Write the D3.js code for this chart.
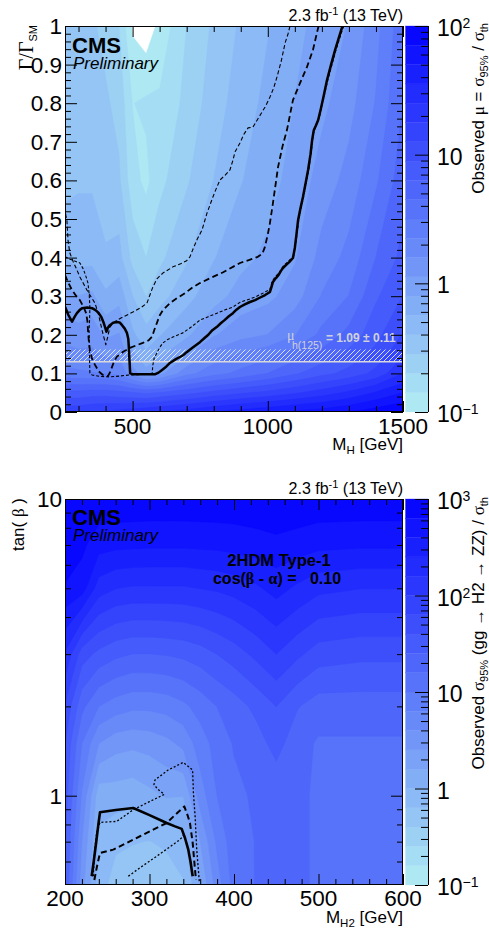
<!DOCTYPE html>
<html>
<head>
<meta charset="utf-8">
<script src="https://cdn.jsdelivr.net/npm/d3@7"></script>
<style>
html, body { margin: 0; padding: 0; background: #fff; }
svg { display: block; font-family: "Liberation Sans", Arial, Helvetica, sans-serif; }
</style>
</head>
<body>
<svg id="chart" width="489" height="933"></svg>
<script>
// ---------------- width scan: observed mu = sigma95 / sigma_th ----------------
const widthMass = [250, 300, 350, 400, 450, 500, 550, 600, 700, 800, 900, 1000, 1100, 1200, 1300, 1400, 1500];
const widthRatio = [0, 0.05, 0.1, 0.15, 0.2, 0.3, 0.4, 0.6, 0.8, 1.0];
// one row per widthRatio entry, one column per widthMass entry
const widthMu = [
  [16, 17, 18, 19, 20, 22, 24, 26, 30, 36, 42, 48, 55, 60, 70, 85, 100],
  [7, 7, 7.5, 7.5, 7, 6.5, 6, 6.5, 8, 10, 12, 14, 17, 21, 27, 37, 50],
  [2.5, 2.4, 2.3, 2.2, 2, 1.3, 0.9, 1.0, 2, 2.8, 3.5, 4.5, 6, 8, 10, 14, 25],
  [1.8, 1.7, 1.7, 1.5, 1.5, 0.85, 0.6, 0.75, 1.05, 1.8, 2.3, 2.8, 3.8, 5, 7, 10, 17],
  [1.4, 1.3, 1.4, 1.05, 1.15, 0.6, 0.45, 0.55, 0.75, 1.08, 1.4, 1.6, 2.2, 3.5, 5, 8, 13],
  [0.88, 0.8, 0.85, 0.6, 0.7, 0.4, 0.28, 0.35, 0.5, 0.7, 0.9, 1.02, 1.35, 2.3, 3.2, 6, 9],
  [0.55, 0.5, 0.5, 0.42, 0.45, 0.25, 0.2, 0.26, 0.38, 0.55, 0.72, 0.85, 1.08, 1.8, 2.5, 4.5, 7],
  [0.35, 0.38, 0.38, 0.32, 0.3, 0.16, 0.13, 0.18, 0.27, 0.4, 0.55, 0.7, 0.9, 1.3, 1.8, 3, 5.5],
  [0.32, 0.35, 0.36, 0.3, 0.25, 0.14, 0.15, 0.15, 0.22, 0.34, 0.47, 0.62, 0.8, 1.03, 1.4, 2.3, 4.5],
  [0.3, 0.32, 0.3, 0.25, 0.2, 0.095, 0.08, 0.11, 0.2, 0.3, 0.42, 0.55, 0.72, 0.9, 1.15, 2, 4]
];
// mu = 1 contours: [M_H, Gamma/Gamma_SM]
const widthObserved = [[250,0.273],[262,0.252],[276,0.234],[286,0.247],[294,0.256],[304,0.264],[313,0.269],[332,0.271],[350,0.269],[363,0.264],[375,0.256],[385,0.245],[393,0.231],[399,0.218],[403,0.208],[409,0.219],[416,0.225],[428,0.231],[442,0.233],[452,0.232],[461,0.225],[471,0.216],[479,0.205],[484,0.19],[486,0.169],[488,0.14],[491,0.10],[500,0.098],[540,0.098],[584,0.098],[596,0.102],[609,0.109],[625,0.118],[638,0.127],[660,0.137],[687,0.147],[700,0.155],[720,0.166],[749,0.181],[765,0.191],[780,0.2],[795,0.212],[811,0.22],[826,0.23],[840,0.238],[856,0.248],[871,0.256],[884,0.265],[897,0.272],[915,0.279],[934,0.285],[953,0.29],[970,0.296],[990,0.303],[1008,0.311],[1013,0.322],[1019,0.337],[1030,0.347],[1040,0.355],[1048,0.365],[1056,0.373],[1068,0.381],[1080,0.389],[1093,0.399],[1100,0.425],[1106,0.46],[1112,0.497],[1120,0.525],[1130,0.557],[1140,0.593],[1149,0.627],[1158,0.668],[1164,0.705],[1170,0.73],[1178,0.742],[1186,0.756],[1196,0.785],[1207,0.82],[1219,0.86],[1234,0.9],[1249,0.938],[1262,0.968],[1274,0.995],[1278,1.0]];
const widthExpected = [[250,0.355],[262,0.335],[276,0.316],[292,0.3],[305,0.29],[320,0.27],[328,0.256],[333,0.235],[335,0.212],[338,0.185],[342,0.161],[350,0.138],[361,0.122],[375,0.105],[390,0.096],[409,0.093],[418,0.105],[424,0.117],[432,0.132],[442,0.143],[465,0.156],[490,0.166],[515,0.173],[538,0.179],[560,0.186],[572,0.195],[580,0.212],[590,0.231],[600,0.25],[612,0.264],[640,0.283],[664,0.295],[694,0.308],[720,0.322],[749,0.334],[797,0.35],[835,0.362],[871,0.376],[897,0.386],[932,0.394],[963,0.402],[980,0.41],[989,0.427],[1000,0.46],[1008,0.49],[1019,0.541],[1038,0.635],[1055,0.69],[1071,0.731],[1093,0.808],[1119,0.852],[1145,0.894],[1167,0.938],[1186,0.995],[1189,1.0]];
const widthSigmaLow = [[250,0.53],[253,0.51],[257,0.497],[261,0.446],[265,0.425],[268,0.412],[280,0.39],[294,0.368],[305,0.35],[318,0.333],[331,0.316],[345,0.3],[361,0.282],[375,0.25],[387,0.212],[395,0.19],[401,0.174],[408,0.195],[416,0.22],[428,0.23],[442,0.238],[470,0.248],[501,0.259],[530,0.27],[553,0.282],[565,0.305],[575,0.324],[590,0.345],[612,0.36],[649,0.376],[680,0.385],[700,0.392],[712,0.402],[725,0.425],[738,0.446],[757,0.472],[775,0.515],[797,0.557],[810,0.58],[823,0.601],[840,0.612],[860,0.627],[870,0.65],[879,0.674],[897,0.697],[912,0.72],[927,0.736],[945,0.738],[968,0.765],[990,0.79],[1008,0.816],[1022,0.84],[1034,0.868],[1050,0.91],[1064,0.956],[1075,0.98],[1082,1.0]];
const widthSigmaHigh = [[250,0.402],[268,0.396],[290,0.39],[305,0.386],[318,0.37],[328,0.35],[335,0.334],[340,0.3],[342,0.27],[341,0.24],[339,0.212],[340,0.16],[342,0.101],[350,0.096],[380,0.092],[416,0.091],[450,0.093],[490,0.096],[530,0.097],[572,0.098],[575,0.122],[580,0.14],[590,0.153],[600,0.167],[612,0.179],[630,0.188],[649,0.194],[686,0.205],[720,0.222],[749,0.238],[780,0.247],[812,0.256],[840,0.264],[871,0.272],[897,0.284],[934,0.293],[953,0.298],[980,0.307],[1008,0.318],[1016,0.338],[1024,0.347],[1042,0.361],[1058,0.379],[1077,0.391],[1096,0.405],[1106,0.45],[1115,0.5],[1133,0.56],[1152,0.63],[1161,0.675],[1168,0.72],[1176,0.738],[1190,0.762],[1204,0.805],[1223,0.863],[1253,0.94],[1278,0.995],[1282,1.0]];
// measured h(125) signal strength band drawn on the width axis
const higgsLine = 0.130;
const higgsBandTop = 0.162;
const higgsLabel = "= 1.09 \u00b1 0.11";
const widthXTicks = [500, 1000, 1500];
const widthYTicks = [0, 0.1, 0.2, 0.3, 0.4, 0.5, 0.6, 0.7, 0.8, 0.9, 1];
const widthZTicks = [0.1, 1, 10, 100];

// ---------------- 2HDM type-1 scan: observed sigma95 / sigma_th ----------------
const thdmMass = [200, 220, 240, 260, 280, 300, 320, 340, 360, 380, 400, 425, 450, 475, 500, 550, 600];
const thdmTanBeta = [0.5, 0.7, 1, 1.5, 2, 3, 5, 7, 10];
const thdmSigma = [
  [25, 3, 0.8, 0.5, 0.45, 0.42, 0.45, 0.6, 1.6, 5, 12, 16, 17, 17, 15, 12, 12],
  [28, 4, 0.9, 0.7, 0.65, 0.62, 0.7, 0.85, 2.5, 7, 13, 16, 17, 17, 15, 12, 12],
  [32, 6, 1.2, 1.25, 1.17, 1.4, 1.65, 1.6, 5, 10, 14, 17, 18, 17, 15, 12, 12],
  [40, 10, 4, 3, 2.8, 3, 3.5, 4.5, 8, 12, 16.5, 20, 30, 19, 15, 15, 15],
  [60, 18, 10, 8, 7, 7, 7.5, 9, 12, 16, 20, 28, 40, 26, 20, 20, 20],
  [150, 50, 35, 28, 25, 25, 26, 28, 32, 40, 50, 70, 100, 70, 50, 45, 45],
  [600, 500, 200, 160, 150, 150, 150, 150, 160, 170, 190, 230, 300, 230, 180, 160, 160],
  [900, 700, 480, 450, 440, 430, 430, 430, 440, 450, 470, 500, 550, 500, 450, 430, 430],
  [1000, 1000, 900, 900, 900, 900, 900, 900, 900, 900, 900, 950, 1000, 950, 900, 900, 900]
];
const thdmObserved = [[231.6,0.535],[234,0.6],[237,0.7],[239.5,0.8],[241.4,0.879],[260,0.895],[280.8,0.909],[300,0.86],[320.3,0.809],[330.2,0.788],[338.1,0.773],[342,0.72],[345.9,0.658],[348.5,0.6],[351.1,0.535]];
const thdmExpected = [[234.7,0.52],[238,0.58],[241.4,0.641],[257.1,0.658],[273,0.693],[288.8,0.73],[305,0.77],[320.3,0.809],[331,0.865],[341.2,0.92],[345,0.86],[347.9,0.809],[351.1,0.693],[353,0.6],[355,0.52]];
const thdmSigmaOuter = [[233.5,0.535],[235,0.65],[237.5,0.749],[241.4,0.813],[261.2,0.819],[280.8,0.897],[300,0.955],[317.5,1.01],[310,1.05],[305.3,1.09],[306.5,1.13],[322,1.22],[340,1.295],[351,1.22],[352,1.02],[354,0.85],[355.9,0.658],[358.9,0.514]];
const thdmSigmaInner = [[274.9,0.535],[290,0.575],[308.5,0.625],[325,0.675],[336,0.711],[342,0.745]];
const thdmXTicks = [200, 300, 400, 500, 600];
const thdmYTicks = [1, 10];
const thdmZTicks = [0.1, 1, 10, 100, 1000];

// ---------------- drawing ----------------
const svg = d3.select("#chart");
const defs = svg.append("defs");
const SERIF = '"Liberation Serif", "Times New Roman", serif';
const N_BANDS = 20;
const lowColor = "#aee9f3", highColor = "#0808ff";
const bandColor = k => d3.interpolateRgb(lowColor, highColor)(k / (N_BANDS - 1));

// where d3.contours places a grid sample inside its cell
const sampleOffset = (() => {
  const c = d3.contours().size([2, 1]).thresholds([0.5])([0, 1])[0];
  const xs = [];
  c.coordinates.forEach(poly => poly.forEach(ring => ring.forEach(p => xs.push(p[0]))));
  return d3.min(xs) - 0.5;
})();

function rich(parent, x, y, parts, o = {}) {
  const t = parent.append("text")
    .attr("x", x).attr("y", y)
    .attr("font-size", o.size || 16)
    .attr("text-anchor", o.anchor || "start")
    .attr("fill", o.fill || "#000");
  if (o.rotate) t.attr("transform", `rotate(${o.rotate},${x},${y})`);
  if (o.weight) t.attr("font-weight", o.weight);
  if (o.style) t.attr("font-style", o.style);
  let shift = 0;
  parts.forEach(p => {
    const s = t.append("tspan").text(p.t);
    const target = p.shift || 0;
    if (target !== shift) { s.attr("dy", target - shift); shift = target; }
    if (p.size) s.attr("font-size", p.size);
    if (p.font) s.attr("font-family", p.font);
  });
  return t;
}

function powLabel(parent, x, y, v, size) {
  const e = Math.round(Math.log10(v));
  if (e === 0) return rich(parent, x, y, [{ t: "1" }], { size });
  if (e === 1) return rich(parent, x, y, [{ t: "10" }], { size });
  return rich(parent, x, y, [{ t: "10" }, { t: e < 0 ? "\u2212" + (-e) : String(e), size: 14, shift: -8 }], { size });
}

function drawPanel(p) {
  const box = p.box;
  const x = p.x, y = p.y, z = p.z;
  const clipId = p.id + "-clip";
  defs.append("clipPath").attr("id", clipId).append("rect")
    .attr("x", box.left).attr("y", box.top)
    .attr("width", box.right - box.left).attr("height", box.bottom - box.top);
  const root = svg.append("g");
  const plot = root.append("g").attr("clip-path", `url(#${clipId})`);

  // filled colour bands from the grid
  const nx = p.gridX.length, ny = p.gridY.length;
  const logValues = [];
  p.grid.forEach(row => row.forEach(v => logValues.push(Math.log10(v))));
  const step = (p.zLog[1] - p.zLog[0]) / N_BANDS;
  const thresholds = d3.range(N_BANDS).map(k => p.zLog[0] + k * step);
  const bands = d3.contours().size([nx, ny]).thresholds(thresholds)(logValues);
  const ix = d3.scaleLinear().domain(d3.range(nx)).range(p.gridX.map(v => x(v))).clamp(true);
  const iy = d3.scaleLinear().domain(d3.range(ny)).range(p.gridY.map(v => y(v))).clamp(true);
  const toScreen = d3.geoTransform({
    point(gx, gy) { this.stream.point(ix(gx - sampleOffset), iy(gy - sampleOffset)); }
  });
  const bandPath = d3.geoPath(toScreen);
  plot.append("g").selectAll("path").data(bands).join("path")
    .attr("d", bandPath)
    .attr("fill", (d, k) => bandColor(k))
    .attr("fill-rule", "evenodd")
    .attr("stroke", (d, k) => bandColor(k))
    .attr("stroke-width", 0.4);

  if (p.extra) p.extra(plot);

  // limit contours
  const line = d3.line().x(d => x(d[0])).y(d => y(d[1]));
  p.lines.forEach(l => {
    plot.append("path").attr("d", line(l.data))
      .attr("fill", "none").attr("stroke", "#000")
      .attr("stroke-width", l.w)
      .attr("stroke-dasharray", l.dash || null)
      .attr("stroke-linejoin", "round");
  });

  if (p.extraTop) p.extraTop(plot);

  // frame and ticks
  root.append("rect")
    .attr("x", box.left + 0.5).attr("y", box.top + 0.5)
    .attr("width", box.right - box.left - 1).attr("height", box.bottom - box.top - 1)
    .attr("fill", "none").attr("stroke", "#000").attr("stroke-width", 1);

  const tickAxis = (axisFn, scale, values, size, tx, ty) => {
    root.append("g").attr("transform", `translate(${tx},${ty})`)
      .call(axisFn(scale).tickValues(values).tickSize(size).tickFormat(""))
      .call(a => a.select(".domain").remove());
  };
  tickAxis(d3.axisBottom, x, p.xMajor, -11, 0, box.bottom);
  tickAxis(d3.axisBottom, x, p.xMinor, -6, 0, box.bottom);
  tickAxis(d3.axisTop, x, p.xMajor, -11, 0, box.top);
  tickAxis(d3.axisTop, x, p.xMinor, -6, 0, box.top);
  tickAxis(d3.axisLeft, y, p.yMajor, -12, box.left, 0);
  tickAxis(d3.axisLeft, y, p.yMinor, -6, box.left, 0);
  tickAxis(d3.axisRight, y, p.yMajor, -12, box.right, 0);
  tickAxis(d3.axisRight, y, p.yMinor, -6, box.right, 0);

  // tick labels
  p.xMajor.forEach(v => rich(root, x(v), p.xLabelY, [{ t: String(v) }], { size: 22.5, anchor: "middle" }));
  p.yMajor.forEach(v => rich(root, 62, y(v) + 8, [{ t: p.yFormat(v) }], { size: 22.5, anchor: "end" }));

  // colour scale
  const cb = root.append("g");
  thresholds.forEach((t, k) => {
    const y0 = z(Math.pow(10, t)), y1 = z(Math.pow(10, t + step));
    cb.append("rect").attr("x", 405.5).attr("y", y1).attr("width", 428 - 405.5).attr("height", y0 - y1)
      .attr("fill", bandColor(k)).attr("stroke", bandColor(k)).attr("stroke-width", 0.3);
  });
  cb.append("line").attr("x1", 428.5).attr("x2", 428.5).attr("y1", box.top).attr("y2", box.bottom)
    .attr("stroke", "#000").attr("stroke-width", 1);
  const zMinor = [];
  p.zMajor.slice(0, -1).forEach(d => { for (let m = 2; m <= 9; m++) zMinor.push(d * m); });
  tickAxis(d3.axisRight, z, p.zMajor, -13, 428, 0);
  tickAxis(d3.axisRight, z, zMinor, -7, 428, 0);
  p.zMajor.forEach(v => powLabel(root, 437, z(v) + 10, v, 23));

  return root;
}

// ---------- width panel ----------
const topBox = { left: 65, right: 403, top: 26, bottom: 412 };
const xW = d3.scaleLinear().domain([250, 1500]).range([topBox.left, topBox.right]);
const yW = d3.scaleLinear().domain([0, 1]).range([topBox.bottom, topBox.top]);
const zW = d3.scaleLog().domain([0.1, 100]).range([topBox.bottom, topBox.top]);

const hatch = defs.append("pattern").attr("id", "hatch")
  .attr("patternUnits", "userSpaceOnUse").attr("width", 5).attr("height", 5);
hatch.append("path").attr("d", "M-1,1 L1,-1 M0,5 L5,0 M4,6 L6,4")
  .attr("stroke", "#e4ecfb").attr("stroke-width", 0.9);

const topPanel = drawPanel({
  id: "width", box: topBox, x: xW, y: yW, z: zW,
  gridX: widthMass, gridY: widthRatio, grid: widthMu, zLog: [-1, 2],
  lines: [
    { data: widthSigmaLow, w: 1.1, dash: "4,2.5" },
    { data: widthSigmaHigh, w: 1.1, dash: "3,2" },
    { data: widthExpected, w: 1.8, dash: "6,3.5" },
    { data: widthObserved, w: 2.5 }
  ],
  extra: g => {
    g.append("rect").attr("x", topBox.left).attr("width", topBox.right - topBox.left)
      .attr("y", yW(higgsBandTop)).attr("height", yW(higgsLine) - yW(higgsBandTop))
      .attr("fill", "url(#hatch)");
    g.append("line").attr("x1", topBox.left).attr("x2", topBox.right)
      .attr("y1", yW(higgsLine)).attr("y2", yW(higgsLine))
      .attr("stroke", "#d8d8dc").attr("stroke-width", 1.5);
  },
  extraTop: g => {
    rich(g, 287, 339.5, [{ t: "\u03bc", font: SERIF }], { size: 14, fill: "#cfd2da" });
    rich(g, 292, 348.5, [{ t: "h(125)" }], { size: 10.5, fill: "#cfd2da" });
    rich(g, 326, 341.5, [{ t: higgsLabel }], { size: 12, weight: "bold", fill: "#cfd2da" });
  },
  xMajor: widthXTicks, xMinor: d3.range(300, 1501, 100).filter(v => v % 500 !== 0),
  yMajor: widthYTicks, yMinor: yW.ticks(50).filter(v => Math.abs(v * 10 - Math.round(v * 10)) > 1e-6),
  zMajor: widthZTicks,
  yFormat: d3.format("~g"),
  xLabelY: 434
});

rich(topPanel, 403, 20.7, [{ t: "2.3 fb" }, { t: "-1", size: 11, shift: -6 }, { t: " (13 TeV)", shift: 0 }], { size: 16, anchor: "end" });
rich(topPanel, 72, 53, [{ t: "CMS" }], { size: 22, weight: "bold" });
rich(topPanel, 73, 68.5, [{ t: "Preliminary" }], { size: 17, style: "italic" });
rich(topPanel, 33, 25, [{ t: "\u0393/\u0393", font: SERIF }, { t: "SM", size: 11, shift: 4 }], { size: 20, anchor: "end", rotate: -90 });
rich(topPanel, 403, 450, [{ t: "M" }, { t: "H", size: 11.5, shift: 4 }, { t: " [GeV]", shift: 0 }], { size: 17, anchor: "end" });
rich(topPanel, 484, 23, [
  { t: "Observed " }, { t: "\u03bc", font: SERIF }, { t: " = " }, { t: "\u03c3", font: SERIF },
  { t: "95%", size: 11, shift: 4 }, { t: " / ", shift: 0 }, { t: "\u03c3", font: SERIF }, { t: "th", size: 11, shift: 4 }
], { size: 17, anchor: "end", rotate: -90 });

// ---------- 2HDM panel ----------
const botBox = { left: 65, right: 403, top: 499, bottom: 885 };
const xT = d3.scaleLinear().domain([200, 600]).range([botBox.left, botBox.right]);
const yT = d3.scaleLog().domain([0.5, 10]).range([botBox.bottom, botBox.top]);
const zT = d3.scaleLog().domain([0.1, 1000]).range([botBox.bottom, botBox.top]);

const botPanel = drawPanel({
  id: "thdm", box: botBox, x: xT, y: yT, z: zT,
  gridX: thdmMass, gridY: thdmTanBeta, grid: thdmSigma, zLog: [-1, 3],
  lines: [
    { data: thdmSigmaOuter, w: 1.3, dash: "2,2" },
    { data: thdmSigmaInner, w: 1.3, dash: "2,2" },
    { data: thdmExpected, w: 2, dash: "6,3.5" },
    { data: thdmObserved, w: 2.6 }
  ],
  xMajor: thdmXTicks, xMinor: d3.range(220, 600, 20).filter(v => v % 100 !== 0),
  yMajor: thdmYTicks, yMinor: [0.6, 0.7, 0.8, 0.9, 2, 3, 4, 5, 6, 7, 8, 9],
  zMajor: thdmZTicks,
  yFormat: d3.format("~g"),
  xLabelY: 906
});

rich(botPanel, 403, 494, [{ t: "2.3 fb" }, { t: "-1", size: 11, shift: -6 }, { t: " (13 TeV)", shift: 0 }], { size: 16, anchor: "end" });
rich(botPanel, 72, 525, [{ t: "CMS" }], { size: 22, weight: "bold" });
rich(botPanel, 73, 541, [{ t: "Preliminary" }], { size: 17, style: "italic" });
rich(botPanel, 279, 566, [{ t: "2HDM Type-1" }], { size: 16.5, weight: "bold", anchor: "middle" });
rich(botPanel, 277, 583.5, [
  { t: "cos(" }, { t: "\u03b2", font: SERIF }, { t: " - " }, { t: "\u03b1", font: SERIF }, { t: ") =\u00a0\u00a0\u00a00.10" }
], { size: 16, weight: "bold", anchor: "middle" });
rich(botPanel, 24, 498, [{ t: "tan( " }, { t: "\u03b2", font: SERIF }, { t: " )" }], { size: 17, anchor: "end", rotate: -90 });
rich(botPanel, 403, 923, [{ t: "M" }, { t: "H2", size: 11.5, shift: 4 }, { t: " [GeV]", shift: 0 }], { size: 17, anchor: "end" });
rich(botPanel, 484, 497, [
  { t: "Observed " }, { t: "\u03c3", font: SERIF }, { t: "95%", size: 11, shift: 4 },
  { t: " (gg \u2192 H2 \u2192 ZZ) / ", shift: 0 }, { t: "\u03c3", font: SERIF }, { t: "th", size: 11, shift: 4 }
], { size: 17, anchor: "end", rotate: -90 });
</script>
</body>
</html>
